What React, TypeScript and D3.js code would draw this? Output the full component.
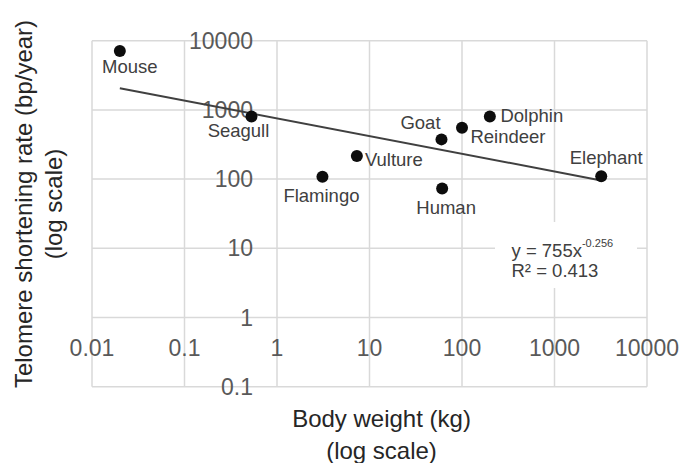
import { useEffect, useRef } from "react";
import * as d3 from "d3";

// animals, body weight (kg) and telomere shortening rate (bp/year)
const animals = ["Mouse", "Seagull", "Flamingo", "Vulture", "Goat", "Reindeer", "Dolphin", "Human", "Elephant"];
const bodyWeight = [0.02, 0.53, 3.1, 7.3, 60, 100, 200, 61, 3200];
const shorteningRate = [7100, 800, 108, 215, 375, 550, 800, 73, 110];

// label nudges relative to each dot (dx, dy)
const labelDx = [10, -13, -1, 37, -21, 46, 42, 4, 5];
const labelDy = [16, 14, 19, 3, -17, 9, -1, 19, -19];

// power trendline y = a * x^b as printed on the chart
const trendA = 755;
const trendB = -0.256;
const trendR2 = 0.413;

const xTicks = [0.01, 0.1, 1, 10, 100, 1000, 10000];
const yTicks = [0.1, 1, 10, 100, 1000, 10000];

const FONT = "'Liberation Sans', Arial, Helvetica, sans-serif";

export default function App() {
  const ref = useRef<SVGSVGElement | null>(null);

  useEffect(() => {
    if (!ref.current) return;
    const width = 684;
    const height = 463;
    const svg = d3.select(ref.current);
    svg.selectAll("*").remove();
    svg.attr("viewBox", `0 0 ${width} ${height}`);

    const x = d3.scaleLog().domain([0.01, 10000]).range([92, 647]);
    const y = d3.scaleLog().domain([0.1, 10000]).range([386.7, 40.7]);

    const grid = svg.append("g").attr("stroke", "#d9d9d9").attr("stroke-width", 1.5);
    grid
      .selectAll("line.v")
      .data(xTicks)
      .join("line")
      .attr("x1", (d) => x(d))
      .attr("x2", (d) => x(d))
      .attr("y1", y(10000))
      .attr("y2", y(0.1));
    grid
      .selectAll("line.h")
      .data(yTicks)
      .join("line")
      .attr("class", "h")
      .attr("x1", x(0.01))
      .attr("x2", x(10000))
      .attr("y1", (d) => y(d))
      .attr("y2", (d) => y(d));

    // x tick labels sit under the y = 1 crossing
    svg
      .append("g")
      .selectAll("text")
      .data(xTicks)
      .join("text")
      .attr("x", (d) => x(d))
      .attr("y", y(1) + 30)
      .attr("text-anchor", "middle")
      .attr("dominant-baseline", "central")
      .attr("font-family", FONT)
      .attr("font-size", 23)
      .attr("fill", "#595959")
      .text((d) => String(d));

    // y tick labels left of the x = 1 crossing
    svg
      .append("g")
      .selectAll("text")
      .data(yTicks)
      .join("text")
      .attr("x", x(1) - 24)
      .attr("y", (d) => y(d))
      .attr("text-anchor", "end")
      .attr("dominant-baseline", "central")
      .attr("font-family", FONT)
      .attr("font-size", 23)
      .attr("fill", "#595959")
      .text((d) => String(d));

    // equation box
    svg
      .append("rect")
      .attr("x", 495)
      .attr("y", 222)
      .attr("width", 142)
      .attr("height", 66)
      .attr("fill", "#fff");

    const xMin = d3.min(bodyWeight) as number;
    const xMax = d3.max(bodyWeight) as number;
    const trend = [xMin, xMax].map((w) => [w, trendA * Math.pow(w, trendB)] as [number, number]);
    svg
      .append("path")
      .datum(trend)
      .attr("fill", "none")
      .attr("stroke", "#404040")
      .attr("stroke-width", 2)
      .attr(
        "d",
        d3
          .line<[number, number]>()
          .x((d) => x(d[0]))
          .y((d) => y(d[1]))
      );

    const pts = animals.map((name, i) => ({ name, w: bodyWeight[i], r: shorteningRate[i], i }));

    svg
      .append("g")
      .selectAll("circle")
      .data(pts)
      .join("circle")
      .attr("cx", (d) => x(d.w))
      .attr("cy", (d) => y(d.r))
      .attr("r", 6)
      .attr("fill", "#0d0d0d");

    svg
      .append("g")
      .selectAll("text")
      .data(pts)
      .join("text")
      .attr("x", (d) => x(d.w) + labelDx[d.i])
      .attr("y", (d) => y(d.r) + labelDy[d.i])
      .attr("text-anchor", "middle")
      .attr("dominant-baseline", "central")
      .attr("font-family", FONT)
      .attr("font-size", 18.5)
      .attr("fill", "#404040")
      .text((d) => d.name);

    const eq = svg
      .append("text")
      .attr("x", 511.5)
      .attr("y", 250)
      .attr("dominant-baseline", "central")
      .attr("font-family", FONT)
      .attr("font-size", 18.5)
      .attr("fill", "#404040");
    eq.append("tspan").text(`y = ${trendA}x`);
    eq.append("tspan").attr("dy", -7).attr("font-size", 11).text(String(trendB));
    svg
      .append("text")
      .attr("x", 511.5)
      .attr("y", 270)
      .attr("dominant-baseline", "central")
      .attr("font-family", FONT)
      .attr("font-size", 18.5)
      .attr("fill", "#404040")
      .text(`R² = ${trendR2}`);

    // axis titles
    const xTitle = svg
      .append("text")
      .attr("text-anchor", "middle")
      .attr("font-family", FONT)
      .attr("font-size", 24)
      .attr("fill", "#262626");
    xTitle.append("tspan").attr("x", 381.5).attr("y", 418).attr("dominant-baseline", "central").text("Body weight (kg)");
    xTitle.append("tspan").attr("x", 381.5).attr("y", 450).attr("dominant-baseline", "central").text("(log scale)");

    const yTitle = svg
      .append("text")
      .attr("transform", "translate(0,204) rotate(-90)")
      .attr("text-anchor", "middle")
      .attr("font-family", FONT)
      .attr("font-size", 24)
      .attr("fill", "#262626");
    yTitle.append("tspan").attr("x", 0).attr("y", 23).attr("dominant-baseline", "central").text("Telomere shortening rate (bp/year)");
    yTitle.append("tspan").attr("x", 0).attr("y", 53).attr("dominant-baseline", "central").text("(log scale)");
  }, []);

  return (
    <svg
      ref={ref}
      width={684}
      height={463}
      style={{ position: "fixed", left: 0, top: 0, background: "#fff" }}
      role="img"
      aria-label="Telomere shortening rate vs body weight"
    />
  );
}
